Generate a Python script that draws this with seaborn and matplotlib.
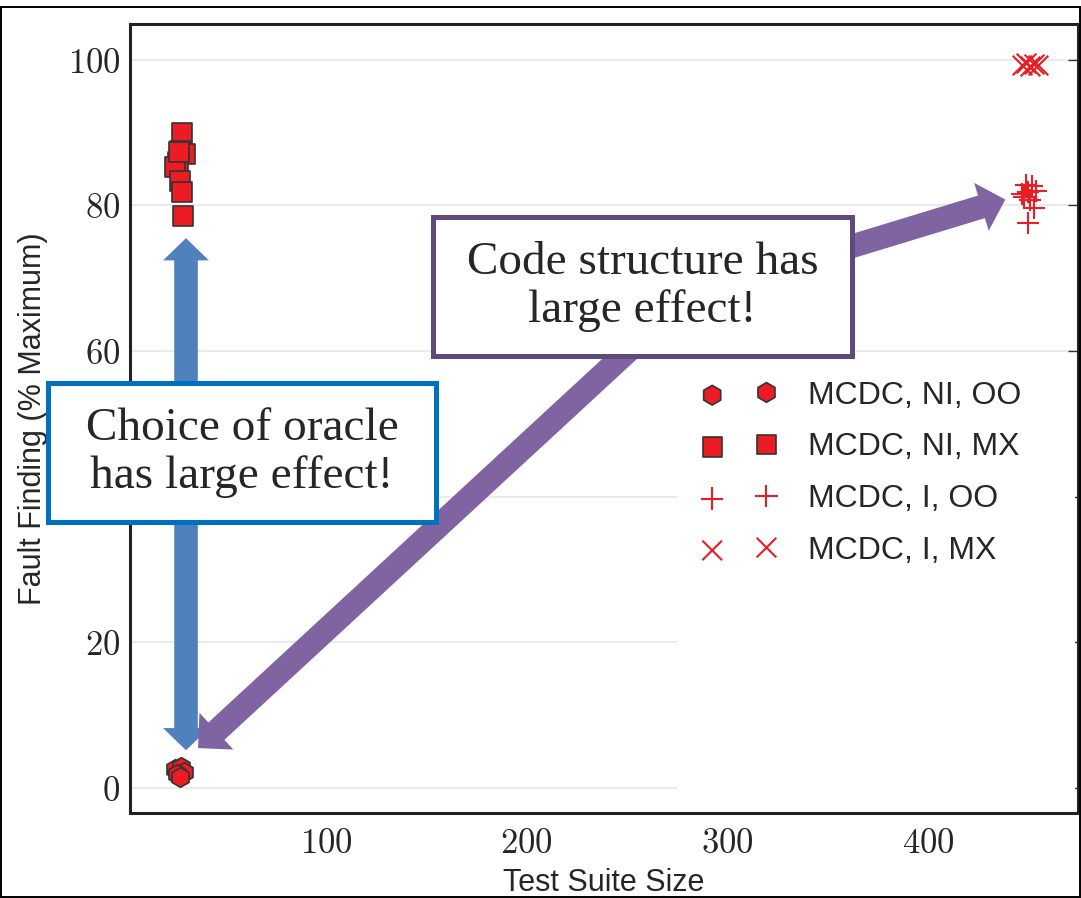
import numpy as np
import pandas as pd
import matplotlib.pyplot as plt
import seaborn as sns
from matplotlib.patches import Rectangle
from matplotlib.ticker import FuncFormatter

#%% Data
labels = ["MCDC, NI, OO", "MCDC, NI, MX", "MCDC, I, OO", "MCDC, I, MX"]

hex_size = [24.5, 27.5, 29.0, 25.5, 27.0]
hex_ff = [2.7, 2.9, 2.2, 2.0, 1.5]

sq_size = [28.0, 27.0, 29.5, 26.0, 24.5, 26.5, 27.0, 28.0, 28.5]
sq_ff = [90.0, 87.5, 87.0, 86.0, 85.3, 87.3, 83.3, 81.8, 78.5]

plus_size = [449, 452, 447, 450, 454, 451, 453, 450, 448]
plus_ff = [82.8, 82.6, 81.5, 81.8, 82.0, 80.8, 79.6, 77.6, 81.2]

x_size = [447, 449, 451, 453, 455]
x_ff = [99.3, 99.5, 99.2, 99.4, 99.3]

xticks = [100, 200, 300, 400]
yticks = [0, 20, 40, 60, 80, 100]
hidden_ytick = 40   # sits behind the "Choice of oracle" box

df = pd.concat([
    pd.DataFrame({"size": hex_size, "ff": hex_ff, "config": labels[0]}),
    pd.DataFrame({"size": sq_size, "ff": sq_ff, "config": labels[1]}),
    pd.DataFrame({"size": plus_size, "ff": plus_ff, "config": labels[2]}),
    pd.DataFrame({"size": x_size, "ff": x_ff, "config": labels[3]}),
], ignore_index=True)

#%% Style
sns.set_style("white")
plt.rcParams["font.family"] = ["Liberation Sans", "DejaVu Sans"]
plt.rcParams["mathtext.fontset"] = "cm"

red = "#EC1C24"
styles = {
    labels[0]: dict(marker="h", s=200, edgecolor="#333333", linewidth=1.2),
    labels[1]: dict(marker="s", s=190, edgecolor="#333333", linewidth=1.2),
    labels[2]: dict(marker="+", s=260, linewidth=1.5),
    labels[3]: dict(marker="x", s=200, linewidth=1.5),
}

fig = plt.figure(figsize=(10.81, 8.98), dpi=100)
ax = fig.add_axes([0.1203, 0.0947, 0.8769, 0.8786])

for lab in labels:
    sub = df[df["config"] == lab]
    sns.scatterplot(data=sub, x="size", y="ff", color=red, ax=ax,
                    label=lab, legend=False, zorder=3, **styles[lab])

ax.set_xlim(2.2, 474.8)
ax.set_ylim(-3.4, 104.9)
ax.set_xticks(xticks)
ax.set_yticks(yticks)
ax.xaxis.set_major_formatter(FuncFormatter(lambda v, p: f"${v:.0f}$"))
ax.yaxis.set_major_formatter(FuncFormatter(
    lambda v, p: "" if v == hidden_ytick else f"${v:.0f}$"))
ax.tick_params(direction="in", length=7, width=1, color="#333333",
               labelsize=25, top=False, right=True)
ax.tick_params(axis="y", pad=7)
ax.tick_params(axis="x", pad=10)
ax.set_axisbelow(True)
ax.yaxis.grid(True, color="#e6e6e6", lw=1.2)
ax.xaxis.grid(False)
for sp in ax.spines.values():
    sp.set_linewidth(2.2)
    sp.set_color("#222222")

ax.set_xlabel("Test Suite Size", fontsize=22, labelpad=6)
ax.set_ylabel("Fault Finding (% Maximum)", fontsize=22, labelpad=14)

# white patch behind legend (gridlines are hidden there)
ax.add_patch(Rectangle((0.577, 0.01), 0.42, 0.55, transform=ax.transAxes,
                       facecolor="white", edgecolor="none", zorder=0.9))

ax.legend(scatterpoints=2, frameon=False, loc="upper left",
          bbox_to_anchor=(0.604, 0.548), borderpad=0, borderaxespad=0,
          fontsize=23, handlelength=2.3, handletextpad=1.0, labelspacing=0.68)

#%% Arrows
def half_arrow(start, tip, color, tail=17, head_w=33, head_l=16):
    ax.annotate("", xy=tip, xytext=start,
                arrowprops=dict(arrowstyle=f"simple,head_length={head_l},head_width={head_w},tail_width={tail}",
                                mutation_scale=1, color=color, lw=0,
                                shrinkA=0, shrinkB=0),
                zorder=4)

blue_arrow = "#4F81BD"
purple_arrow = "#8064A2"
half_arrow((30.1, 40.3), (30.1, 75.5), blue_arrow)
half_arrow((30.1, 40.3), (30.1, 5.2), blue_arrow)
half_arrow((280, 67.5), (36.1, 5.5), purple_arrow, head_w=36, head_l=18)
half_arrow((280, 67.5), (438.6, 80.8), purple_arrow, head_w=36, head_l=18)

#%% Text boxes
def text_box(x0, y0, w, h, edge, txt):
    fig.patches.append(Rectangle((x0, y0), w, h, transform=fig.transFigure,
                                 facecolor="white", edgecolor=edge, lw=3.6,
                                 zorder=5))
    fig.text(x0 + w / 2, y0 + h / 2, txt, ha="center", va="center",
             family=["Liberation Serif", "DejaVu Serif"], fontsize=34,
             linespacing=1.17, zorder=6)

text_box(0.0444, 0.4187, 0.3589, 0.1548, "#0070C0",
         "Choice of oracle\nhas large effect!")
text_box(0.4006, 0.6036, 0.3876, 0.1548, "#604A7B",
         "Code structure has\nlarge effect!")

# outer frame of the picture
fig.patches.append(Rectangle((0.001, 0.001), 0.998, 0.991,
                             transform=fig.transFigure, fill=False,
                             edgecolor="black", lw=1.4, zorder=7))

fig.savefig("out.png", dpi=100)
